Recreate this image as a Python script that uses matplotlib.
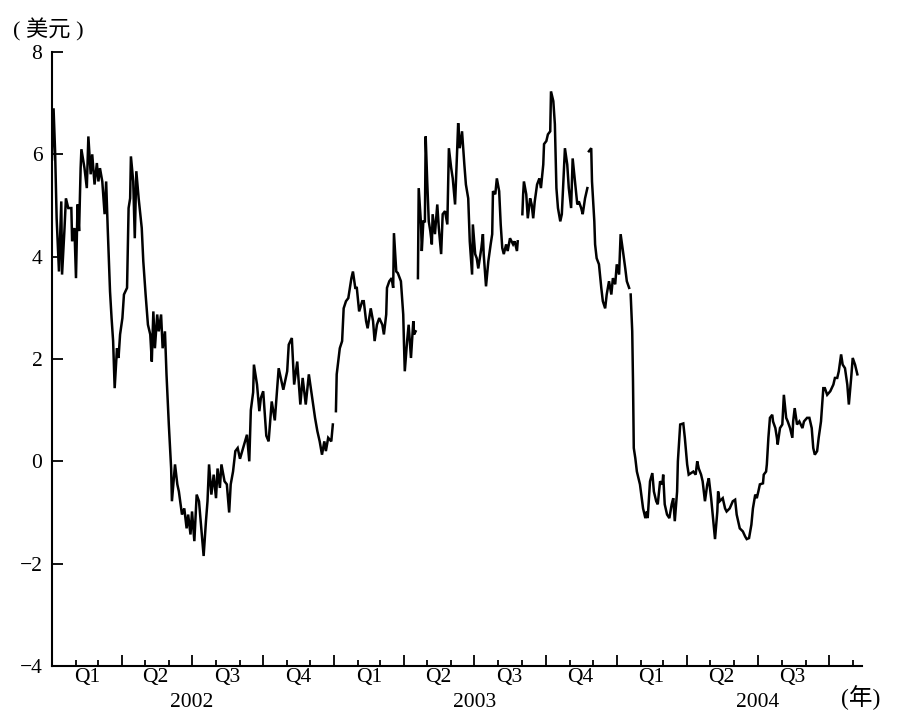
import numpy as np
import matplotlib.pyplot as plt
import matplotlib.dates as mdates

plt.rcParams['font.family'] = ['Liberation Serif', 'Noto Sans CJK SC']
plt.rcParams['axes.unicode_minus'] = True

# spread in US$; days counted from 2002-01-01
# each contract is a separate piece, the line breaks at every roll
seg1_days = [0, 2, 4, 6, 9, 12, 13, 16, 18, 21, 25, 26, 29, 31, 33, 35, 37, 38, 42, 45,
             47, 50, 52, 55, 58, 60, 62, 65, 68, 70, 72, 75, 77, 79, 81, 84, 86, 88, 91, 93,
             97, 99, 101, 102, 105, 107, 109, 112, 116, 118, 121, 124, 127, 129, 131, 133, 136, 138, 141, 143,
             146, 148, 151, 154, 155, 159, 162, 164, 168, 171, 174, 176, 179, 181, 184, 187, 190, 193, 196, 199,
             201, 203, 206, 209, 212, 214, 217, 219, 223, 226, 229, 231, 234, 237, 240, 243, 247, 252, 255, 257,
             260, 261, 265, 268, 270, 273, 277, 280, 284, 288, 291, 293, 299, 304, 306, 310, 313, 317, 321, 324,
             328, 332, 337, 340, 343, 346, 349, 352, 354, 357, 361, 363]
seg1_vals = [5.9, 6.9, 6.06, 4.75, 3.71, 5.08, 3.65, 4.5, 5.14, 4.95, 4.95, 4.3, 4.56, 3.58, 5.02, 4.5, 5.73, 6.1, 5.73, 5.34,
             6.35, 5.61, 6.0, 5.41, 5.83, 5.47, 5.73, 5.47, 4.83, 5.47, 4.56, 3.32, 2.8, 2.35, 1.43, 2.21, 2.02, 2.48, 2.8, 3.26,
             3.39, 4.95, 5.14, 5.96, 5.47, 4.36, 5.67, 5.14, 4.56, 3.91, 3.26, 2.67, 2.48, 1.95, 2.93, 2.21, 2.87, 2.54, 2.87, 2.21,
             2.54, 1.70, 0.72, -0.14, -0.78, -0.06, -0.45, -0.59, -1.04, -0.92, -1.31, -1.04, -1.43, -0.98, -1.56, -0.65, -0.78, -1.31, -1.85, -1.17,
             -0.78, -0.06, -0.65, -0.26, -0.72, -0.14, -0.52, -0.06, -0.39, -0.45, -1.0, -0.45, -0.2, 0.2, 0.26, 0.05, 0.26, 0.52, 0.0, 1.0,
             1.35, 1.89, 1.5, 0.98, 1.24, 1.37, 0.5, 0.39, 1.17, 0.8, 1.4, 1.82, 1.4, 1.76, 2.28, 2.41, 1.5, 1.95, 1.11, 1.63,
             1.11, 1.70, 1.17, 0.85, 0.59, 0.39, 0.13, 0.39, 0.2, 0.46, 0.39, 0.72]

seg2_days = [367, 368, 372, 375, 377, 380, 383, 387, 389, 392, 394, 397, 401, 403, 406, 408, 412, 415, 417, 420,
             423, 427, 429, 432, 433, 436, 439, 441, 442, 445, 447, 451, 454, 455, 456, 459, 461, 464, 467, 468, 470]
seg2_vals = [0.98, 1.70, 2.21, 2.35, 2.99, 3.13, 3.19, 3.58, 3.71, 3.39, 3.39, 2.93, 3.13, 3.13, 2.74, 2.6, 2.99, 2.74, 2.35, 2.67,
             2.8, 2.67, 2.48, 2.87, 3.39, 3.52, 3.58, 3.39, 4.46, 3.71, 3.68, 3.52, 2.87, 2.28, 1.76, 2.35, 2.67, 2.02, 2.74, 2.48, 2.54]

seg3_days = [473, 474, 477, 478, 480, 482, 483, 485, 487, 489, 491, 492, 495, 498, 500, 503, 505, 508, 511, 513,
             516, 518, 521, 524, 525, 527, 530, 533, 535, 538, 540, 543, 544, 547, 549, 551, 555, 557, 558, 561,
             564, 567, 569, 570, 573, 575, 578, 580, 582, 584, 587, 589, 592, 596, 598, 601, 602]
seg3_vals = [3.58, 5.34, 4.63, 4.11, 4.69, 4.69, 6.35, 5.47, 4.69, 4.5, 4.24, 4.83, 4.44, 5.02, 4.56, 4.05, 4.83, 4.89, 4.63, 6.12,
             5.73, 5.53, 5.02, 6.2, 6.61, 6.12, 6.45, 5.8, 5.41, 5.14, 4.3, 3.65, 4.63, 4.05, 3.97, 3.77, 4.17, 4.44, 4.05, 3.42,
             3.91, 4.24, 4.44, 5.28, 5.22, 5.53, 5.28, 4.63, 4.17, 4.05, 4.24, 4.11, 4.36, 4.24, 4.3, 4.11, 4.3]

seg4_days = [608, 609, 610, 613, 615, 618, 620, 622, 624, 627, 630, 632, 635, 636, 639, 641, 644, 645, 648, 650,
             652, 654, 657, 659, 661, 663, 666, 668, 671, 673, 676, 679, 681, 684, 686, 689, 692]
seg4_vals = [4.83, 5.22, 5.47, 5.22, 4.75, 5.14, 5.02, 4.75, 5.08, 5.41, 5.53, 5.34, 5.8, 6.2, 6.26, 6.39, 6.45, 7.23, 7.04, 6.59,
             5.34, 4.95, 4.69, 4.83, 5.47, 6.12, 5.8, 5.34, 4.95, 5.92, 5.47, 5.02, 5.08, 4.95, 4.83, 5.14, 5.34]

seg5_days = [694, 697, 698, 701, 702, 704, 707, 710, 712, 715, 717, 720, 723, 725, 728, 730, 733, 735, 738, 741, 743, 746]
seg5_vals = [6.06, 6.12, 5.47, 4.69, 4.24, 3.97, 3.85, 3.39, 3.13, 2.99, 3.26, 3.52, 3.26, 3.58, 3.46, 3.85, 3.65, 4.44, 4.11, 3.77,
             3.52, 3.39]

seg6_days = [748, 750, 751, 752, 754, 756, 760, 764, 767, 769, 770, 773, 776, 778, 781, 783, 786, 789, 790, 792,
             795, 798, 801, 803, 805, 808, 809, 812, 816, 818, 821, 823, 826, 829, 832, 834, 836, 839, 841, 844,
             847, 849, 852, 854, 857, 860, 861, 863, 867, 870, 872, 876, 880, 883, 885, 889, 893, 896, 898, 901,
             904, 906, 909, 911, 913, 915, 919, 920, 923, 924, 926, 928, 931, 932, 935, 937, 938, 941, 944, 946,
             949, 951, 954, 957, 958, 960, 963, 966, 970, 972, 976, 979, 982, 984, 986, 989, 991, 994, 997, 999,
             1002, 1006, 1010, 1012, 1015, 1017, 1020, 1022, 1025, 1028, 1030, 1033, 1035, 1038, 1041]
seg6_vals = [3.26, 2.54, 1.56, 0.26, 0.06, -0.2, -0.45, -0.92, -1.11, -0.98, -1.11, -0.39, -0.23, -0.59, -0.78, -0.84, -0.39, -0.45, -0.26, -0.84,
             -1.04, -1.11, -0.84, -0.72, -1.17, -0.59, 0.0, 0.72, 0.74, 0.46, -0.06, -0.26, -0.23, -0.2, -0.26, 0.0, -0.14, -0.26, -0.39, -0.78,
             -0.45, -0.33, -0.72, -1.04, -1.52, -0.98, -0.59, -0.78, -0.72, -0.92, -0.98, -0.92, -0.78, -0.75, -1.04, -1.31, -1.37, -1.47, -1.52, -1.50,
             -1.24, -0.92, -0.65, -0.72, -0.59, -0.45, -0.43, -0.26, -0.2, -0.06, 0.46, 0.85, 0.91, 0.78, 0.65, 0.46, 0.33, 0.65, 0.72, 1.3,
             0.85, 0.78, 0.65, 0.46, 0.78, 1.04, 0.72, 0.78, 0.65, 0.78, 0.85, 0.85, 0.65, 0.26, 0.13, 0.2, 0.46, 0.78, 1.43, 1.43,
             1.3, 1.37, 1.5, 1.63, 1.63, 1.76, 2.09, 1.89, 1.82, 1.5, 1.11, 1.63, 2.02, 1.89, 1.70]

segments = [(seg1_days, seg1_vals), (seg2_days, seg2_vals), (seg3_days, seg3_vals),
            (seg4_days, seg4_vals), (seg5_days, seg5_vals), (seg6_days, seg6_vals)]

years = [2002, 2003, 2004]
quarters = ['Q1', 'Q2', 'Q3', 'Q4']
yticks = [-4, -2, 0, 2, 4, 6, 8]

start = np.datetime64('2002-01-01')
end = start + np.timedelta64(1047, 'D')

fig = plt.figure(figsize=(8.97, 7.25), dpi=100)
ax = fig.add_axes([52/897, 1 - 666/725, (862 - 52)/897, (666 - 52)/725])

for d, v in segments:
    dates = start + np.array(d).astype('timedelta64[D]')
    ax.plot(dates, v, color='black', lw=1.8, solid_joinstyle='miter')

ax.set_xlim(start, end)
ax.set_ylim(-4, 8)
ax.set_yticks(yticks)
ax.set_yticklabels(['\u2212' + str(abs(t)) if t < 0 else str(t) for t in yticks], fontsize=15.5)

ax.xaxis.set_major_locator(mdates.MonthLocator(bymonth=[1, 4, 7, 10]))
ax.xaxis.set_minor_locator(mdates.MonthLocator(bymonth=[2, 3, 5, 6, 8, 9, 11, 12]))
ax.xaxis.set_major_formatter(plt.NullFormatter())
ax.tick_params(axis='x', which='major', direction='in', length=8, width=1.3)
ax.tick_params(axis='x', which='minor', direction='in', length=4, width=1.3)
ax.tick_params(axis='y', direction='in', length=8, width=1.3, pad=7)

for s in ['top', 'right']:
    ax.spines[s].set_visible(False)
for s in ['left', 'bottom']:
    ax.spines[s].set_linewidth(1.5)

trans = ax.get_xaxis_transform()
for yr in years:
    for i, q in enumerate(quarters):
        mid = np.datetime64('%d-%02d-15' % (yr, 3 * i + 2))
        if mid > end:
            continue
        ax.text(mid, -0.018, q, transform=trans, ha='center', va='center', fontsize=15.5)
    ax.text(np.datetime64('%d-07-01' % yr), -0.059, str(yr), transform=trans,
            ha='center', va='center', fontsize=15.5)

fig.text(13/897, 1 - 30/725, '( 美元 )', ha='left', va='center', fontsize=16)
fig.text(861/897, 1 - 698/725, '(年)', ha='center', va='center', fontsize=17)

fig.savefig('out.png', dpi=100)
